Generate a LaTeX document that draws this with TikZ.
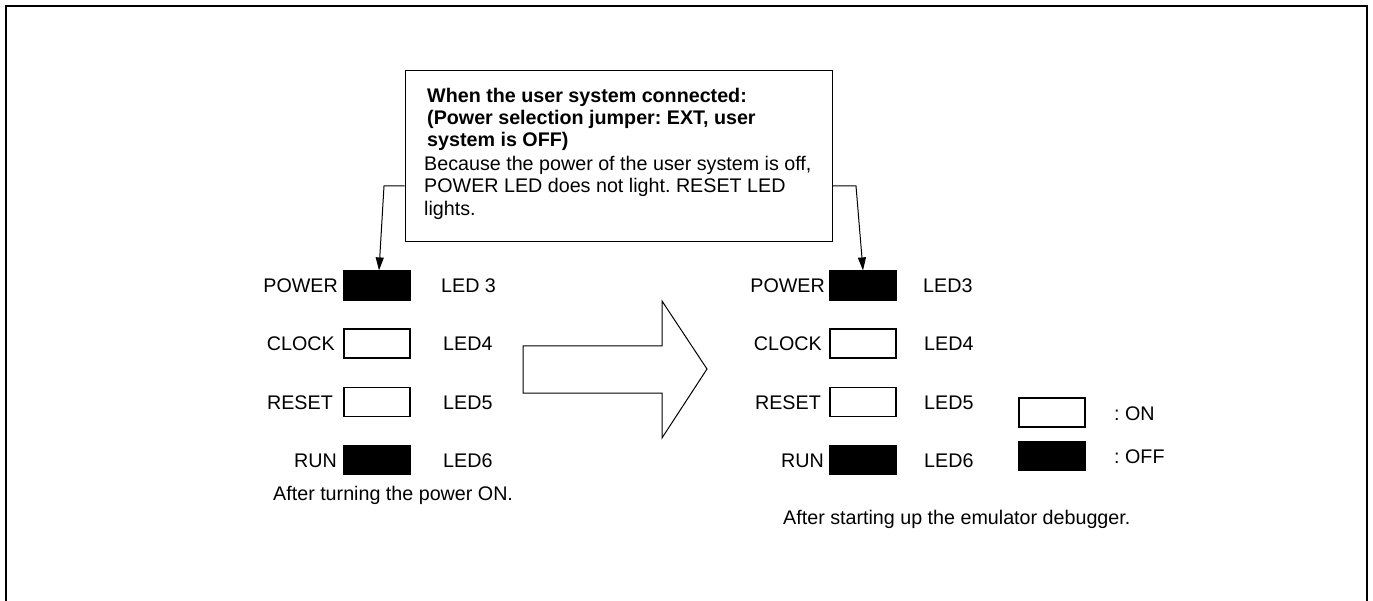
\documentclass[tikz,border=0pt]{standalone}
\usepackage{fontspec}
\setmainfont{Liberation Sans}
\usetikzlibrary{arrows.meta,calc}
\frenchspacing
\begin{document}
\begin{tikzpicture}[x=1pt,y=-1pt,
  txt/.style={inner sep=0pt, font=\fontsize{19.7}{22}\selectfont},
  bld/.style={inner sep=0pt, font=\fontsize{19.7}{22}\selectfont\bfseries},
  ledon/.style={draw, line width=1.2pt, fill=white, minimum width=66pt, minimum height=29pt, inner sep=0pt},
  ledoff/.style={draw, line width=1.2pt, fill=black, minimum width=66pt, minimum height=29pt, inner sep=0pt},
  conn/.style={line width=1pt, -{Triangle[length=13pt,width=8pt]}},
  frame/.style={line width=2pt}]
\useasboundingbox (0,0) rectangle (1373,601);
% outer frame (open at bottom)
\draw[frame] (6,601) -- (6,6) -- (1367,6) -- (1367,601);

% callout box
\node[draw, line width=1pt, minimum width=427pt, minimum height=171pt, inner sep=0pt] (co) at (618.5,156.5) {};
\node[bld, anchor=base west] (t1) at (427,103) {When the user system connected:};
\node[bld, anchor=base west] (t2) at (427,125) {(Power selection jumper: EXT, user};
\node[bld, anchor=base west] (t3) at (427,147) {system is OFF)};
\node[txt, anchor=base west] (t4) at (424,171) {Because the power of the user system is off,};
\node[txt, anchor=base west] (t5) at (424,193) {POWER LED does not light. RESET LED};
\node[txt, anchor=base west] (t6) at (424,216) {lights.};

% left panel
\node[ledoff] (lp1) at (377,285.5) {};
\node[ledon]  (lp2) at (377,343.5) {};
\node[ledon]  (lp3) at (377,402) {};
\node[ledoff] (lp4) at (377,460) {};
\node[txt, anchor=base east] (ln1) at (338,292.5) {POWER};
\node[txt, anchor=base east] (ln2) at (335,350.5) {CLOCK};
\node[txt, anchor=base east] (ln3) at (333,409) {RESET};
\node[txt, anchor=base east] (ln4) at (337,467) {RUN};
\node[txt, anchor=base west] (ll1) at (441,292.5) {LED 3};
\node[txt, anchor=base west] (ll2) at (443,350.5) {LED4};
\node[txt, anchor=base west] (ll3) at (443,409) {LED5};
\node[txt, anchor=base west] (ll4) at (443,467) {LED6};
\node[txt, anchor=base west] (lcap) at (273,500) {After turning the power ON.};

% right panel
\node[ledoff] (rp1) at (863,285.5) {};
\node[ledon]  (rp2) at (863,343.5) {};
\node[ledon]  (rp3) at (863,402) {};
\node[ledoff] (rp4) at (863,460) {};
\node[txt, anchor=base east] (rn1) at (825,292.5) {POWER};
\node[txt, anchor=base east] (rn2) at (822,350.5) {CLOCK};
\node[txt, anchor=base east] (rn3) at (821,409) {RESET};
\node[txt, anchor=base east] (rn4) at (824,467) {RUN};
\node[txt, anchor=base west] (rl1) at (923,292.5) {LED3};
\node[txt, anchor=base west] (rl2) at (924,350.5) {LED4};
\node[txt, anchor=base west] (rl3) at (924,409) {LED5};
\node[txt, anchor=base west] (rl4) at (924,467) {LED6};
\node[txt, anchor=base west] (rcap) at (783,524) {After starting up the emulator debugger.};

% legend
\node[ledon]  (gon)  at (1052,412.5) {};
\node[ledoff] (goff) at (1052,456) {};
\node[txt, anchor=base west] (gonl)  at (1114,420) {: ON};
\node[txt, anchor=base west] (goffl) at (1114,463) {: OFF};

% big block arrow
\draw[line width=1pt, line join=miter] (523,346) -- (662,346) -- (662,301) -- (707,369) -- (662,438) -- (662,393) -- (523,393) -- cycle;

% connectors
\coordinate (lk) at (384,186);
\coordinate (rk) at (856,186);
\draw[conn] (co.west |- lk) -- (lk) -- ($(lp1.north)+(2,0)$);
\draw[conn] (co.east |- rk) -- (rk) -- (rp1.north);
\end{tikzpicture}
\end{document}
